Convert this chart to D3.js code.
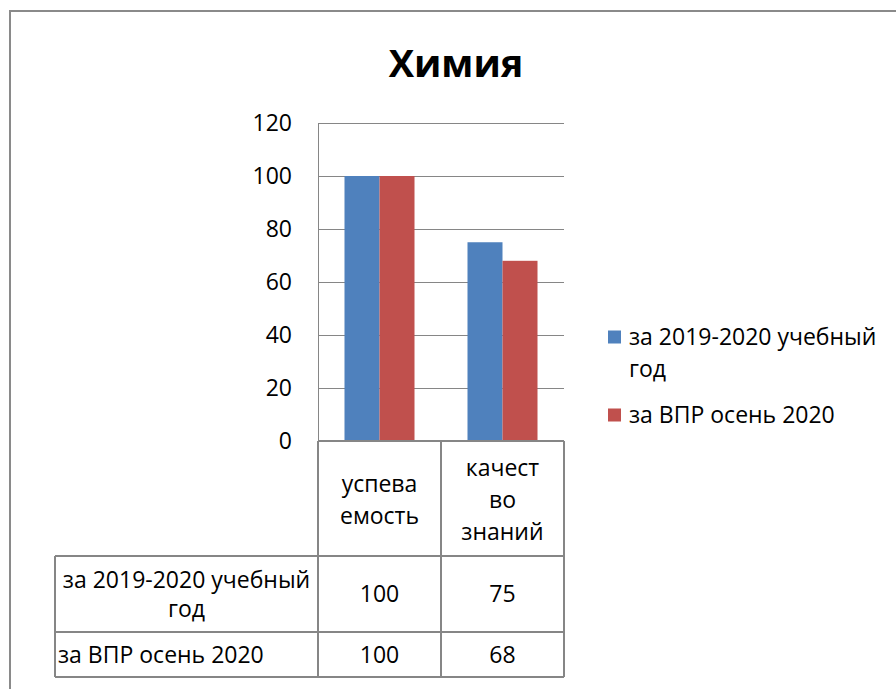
<!DOCTYPE html>
<html><head><meta charset="utf-8">
<script src="https://cdn.jsdelivr.net/npm/d3@7"></script>
<style>
html,body{margin:0;padding:0;background:#fff;}
svg{display:block;font-family:"Open Sans",sans-serif;}
</style></head>
<body><svg id="c" width="896" height="689"></svg>
<script>
const title = "Химия";
const categories = ["успеваемость", "качество знаний"];
const categoryLines = [["успева", "емость"], ["качест", "во", "знаний"]];
const seriesNames = ["за 2019-2020 учебный год", "за ВПР осень 2020"];
const seriesLines = [["за 2019-2020 учебный", "год"], ["за ВПР осень 2020"]];
const series2019 = [100, 75];
const seriesVPR = [100, 68];
const yTicks = [0, 20, 40, 60, 80, 100, 120];
const colors = ["#4F81BD", "#C0504D"];

const seriesValues = [series2019, seriesVPR];
const svg = d3.select("#c");
const gridColor = "#868686";
const fs = 23;

// outer frame
svg.append("path").attr("d", "M10,689 V11 H896").attr("fill", "none")
  .attr("stroke", "#8a8a8a").attr("stroke-width", 2);

// title
svg.append("text").attr("x", 456).attr("y", 77).attr("text-anchor", "middle")
  .attr("font-size", 38).attr("font-weight", "bold").attr("fill", "#000").text(title);

const plotL = 318, plotR = 564, plotT = 123, plotB = 441;
const y = d3.scaleLinear().domain([0, 120]).range([plotB, plotT]);
const x0 = d3.scaleBand().domain(categories).range([plotL, plotR]).padding(0);
const x1 = d3.scaleBand().domain(seriesNames).range([0, x0.bandwidth()])
  .paddingInner(0).paddingOuter(0.757);

// gridlines
const yAxis = d3.axisLeft(y).tickValues(yTicks).tickSize(-(plotR - plotL)).tickPadding(26).tickFormat(d3.format("d"));
const gy = svg.append("g").attr("transform", `translate(${plotL},0)`).call(yAxis);
gy.select(".domain").remove();
gy.selectAll(".tick line").attr("stroke", gridColor).attr("stroke-width", 1)
  .attr("shape-rendering", "crispEdges");
gy.selectAll(".tick text").attr("font-size", fs).attr("fill", "#000")
  .attr("font-family", "'Open Sans',sans-serif");
// left axis line
svg.append("line").attr("x1", plotL).attr("x2", plotL).attr("y1", plotT).attr("y2", plotB)
  .attr("stroke", gridColor).attr("shape-rendering", "crispEdges");

// bars
categories.forEach((c, ci) => {
  seriesNames.forEach((s, si) => {
    const v = seriesValues[si][ci];
    svg.append("rect")
      .attr("x", x0(c) + x1(s)).attr("width", x1.bandwidth())
      .attr("y", y(v)).attr("height", y(0) - y(v))
      .attr("fill", colors[si]);
  });
});

// data table
const tbl = svg.append("g").attr("stroke", gridColor).attr("stroke-width", 1.2)
  .attr("fill", "none").attr("shape-rendering", "crispEdges");
const tblL = 55, hdrB = 556, row1B = 632, row2B = 677;
[plotL, x0(categories[1]), plotR].forEach(xx => {
  tbl.append("line").attr("x1", xx).attr("x2", xx).attr("y1", plotB).attr("y2", row2B);
});
tbl.append("line").attr("x1", tblL).attr("x2", tblL).attr("y1", hdrB).attr("y2", row2B);
tbl.append("line").attr("x1", plotL).attr("x2", plotR).attr("y1", plotB).attr("y2", plotB);
[hdrB, row1B, row2B].forEach(yy => {
  tbl.append("line").attr("x1", tblL).attr("x2", plotR).attr("y1", yy).attr("y2", yy);
});

const T = svg.append("g").attr("font-size", fs).attr("fill", "#000");
const lh = 32;
categories.forEach((c, ci) => {
  const lines = categoryLines[ci];
  const cy = (plotB + hdrB) / 2 + 1;
  lines.forEach((ln, li) => {
    T.append("text").attr("x", x0(c) + x0.bandwidth() / 2)
      .attr("y", cy + (li - (lines.length - 1) / 2) * lh)
      .attr("dy", "0.35em").attr("text-anchor", "middle").text(ln);
  });
});
const rowTops = [hdrB, row1B], rowBots = [row1B, row2B];
seriesNames.forEach((s, si) => {
  const cy = (rowTops[si] + rowBots[si]) / 2;
  const lines = seriesLines[si];
  lines.forEach((ln, li) => {
    const t = T.append("text")
      .attr("y", cy + (li - (lines.length - 1) / 2) * 29).attr("dy", "0.35em").text(ln);
    if (si === 0) t.attr("x", (tblL + plotL) / 2).attr("text-anchor", "middle");
    else t.attr("x", tblL + 3);
  });
  categories.forEach((c, ci) => {
    T.append("text").attr("x", x0(c) + x0.bandwidth() / 2).attr("y", cy).attr("dy", "0.35em")
      .attr("text-anchor", "middle").text(seriesValues[si][ci]);
  });
});

// legend
const legY = [337, 415];
seriesNames.forEach((s, si) => {
  svg.append("rect").attr("x", 608).attr("y", legY[si] - 6.5).attr("width", 13).attr("height", 13)
    .attr("fill", colors[si]);
  seriesLines[si].forEach((ln, li) => {
    T.append("text").attr("x", 629).attr("y", legY[si] + li * 32).attr("dy", "0.35em").text(ln);
  });
});
</script></body></html>
